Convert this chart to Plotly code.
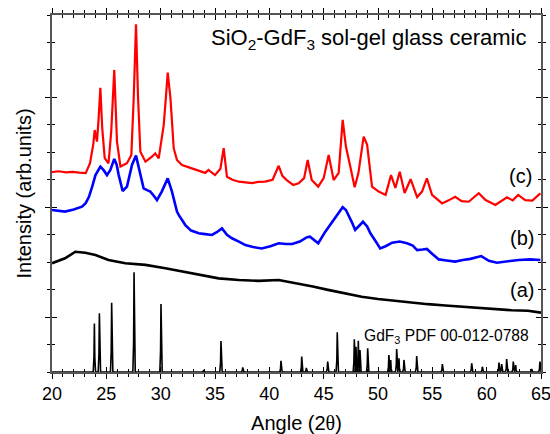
import plotly.graph_objects as go

# --- XRD patterns, 2-theta in degrees, intensity in arbitrary (offset) units ---

# (c) crystallised glass ceramic
red_x = [20.0, 20.6, 21.3, 21.9, 22.5, 23.1, 23.5, 23.8, 23.93, 24.14,
         24.3, 24.45, 24.62, 24.85, 25.2, 25.45, 25.73, 25.98, 26.3, 26.9,
         27.3, 27.52, 27.73, 27.92, 28.13, 28.6, 29.2, 29.5, 29.82, 30.28,
         30.5, 30.65, 30.9, 31.2, 31.5, 31.96, 32.6, 33.2, 33.7, 34.1,
         34.4, 35.0, 35.5, 35.8, 36.1, 36.6, 37.2, 37.8, 38.4, 39.0,
         39.6, 40.3, 40.86, 41.2, 41.6, 42.2, 42.7, 43.2, 43.53, 43.9,
         44.5, 45.0, 45.46, 45.92, 46.38, 46.75, 47.05, 47.45, 47.85, 48.2,
         48.68, 49.0, 49.45, 50.06, 50.7, 51.2, 51.6, 52.0, 52.45, 53.0,
         53.6, 54.05, 54.5, 54.97, 55.4, 55.9, 56.5, 57.1, 57.7, 58.35,
         59.27, 59.9, 60.8, 61.3, 61.87, 62.4, 62.9, 63.55, 64.2, 64.94]
red_y = [7.28, 7.31, 7.27, 7.29, 7.26, 7.24, 7.60, 8.30, 8.81, 8.39,
         9.30, 10.35, 8.90, 7.79, 7.60, 8.75, 11.00, 8.39, 7.48, 7.60,
         7.90, 9.98, 12.66, 9.98, 8.02, 7.66, 7.84, 7.96, 7.78, 8.99,
         10.10, 10.90, 9.97, 8.15, 7.72, 7.54, 7.45, 7.36, 7.30, 7.25,
         7.36, 7.17, 7.40, 8.15, 7.11, 7.00, 6.93, 6.90, 6.88, 6.92,
         6.93, 7.00, 7.51, 7.14, 6.99, 6.81, 6.87, 7.06, 7.72, 6.99,
         6.75, 7.06, 7.90, 6.99, 7.25, 9.18, 8.20, 7.48, 6.73, 7.25,
         8.57, 8.27, 6.75, 6.57, 6.45, 7.17, 6.70, 7.29, 6.52, 7.02,
         6.37, 6.57, 7.05, 6.45, 6.30, 6.14, 6.25, 6.38, 6.22, 6.20,
         6.51, 6.26, 6.08, 6.20, 6.36, 6.25, 6.45, 6.26, 6.24, 6.51]

# (b) partially crystallised sample
blue_x = [20.0, 20.6, 21.2, 22.0, 22.76, 23.1, 23.4, 23.7, 24.0, 24.45,
          24.75, 25.06, 25.37, 25.73, 25.95, 26.14, 26.5, 26.9, 27.15, 27.36,
          27.73, 28.04, 28.43, 28.75, 29.05, 29.4, 29.66, 30.1, 30.4, 30.65,
          31.04, 31.3, 31.5, 31.66, 32.27, 32.8, 33.5, 34.1, 34.72, 35.2,
          35.64, 36.1, 36.56, 37.2, 37.8, 38.5, 39.3, 40.1, 40.86, 41.5,
          42.1, 42.8, 43.47, 43.74, 44.1, 44.5, 45.15, 45.6, 45.92, 46.3,
          46.75, 47.05, 47.3, 47.6, 47.9, 48.3, 48.62, 49.0, 49.3, 49.8,
          50.2, 50.7, 51.3, 52.0, 52.67, 53.2, 53.6, 54.1, 54.5, 55.0,
          55.6, 56.3, 57.1, 57.8, 58.5, 59.5, 60.2, 60.95, 61.9, 62.95,
          64.0, 64.94]
blue_y = [5.90, 5.86, 5.84, 5.92, 6.02, 6.15, 6.38, 6.75, 7.17, 7.48,
          7.35, 7.17, 7.36, 7.76, 7.55, 7.17, 6.59, 6.75, 7.20, 7.54,
          7.88, 7.36, 6.69, 6.62, 6.57, 6.40, 6.26, 6.57, 6.85, 7.05,
          6.57, 6.15, 5.84, 5.72, 5.35, 5.15, 5.05, 5.02, 4.99, 5.10,
          5.23, 5.00, 4.87, 4.75, 4.62, 4.55, 4.50, 4.58, 4.69, 4.66,
          4.66, 4.75, 4.91, 4.93, 4.80, 4.69, 5.11, 5.35, 5.54, 5.75,
          6.00, 5.90, 5.72, 5.45, 5.17, 5.35, 5.47, 5.30, 5.05, 4.75,
          4.50, 4.58, 4.71, 4.75, 4.69, 4.60, 4.44, 4.46, 4.48, 4.30,
          4.10, 4.06, 4.02, 4.08, 4.12, 4.22, 4.05, 3.98, 4.03, 4.08,
          4.10, 4.08]

# (a) amorphous sol-gel glass
black_x = [20.0, 21.2, 22.15, 23.06, 24.0, 25.2, 26.75, 28.6, 30.43, 32.27,
           33.8, 35.34, 37.2, 39.0, 40.86, 42.55, 44.0, 45.4, 47.0, 48.5,
           50.0, 51.56, 53.0, 54.6, 56.2, 57.7, 59.2, 60.76, 62.3, 63.8, 65.0]
black_y = [3.96, 4.14, 4.38, 4.34, 4.26, 4.08, 3.96, 3.90, 3.78, 3.65,
           3.53, 3.41, 3.35, 3.32, 3.35, 3.23, 3.11, 2.99, 2.86, 2.74,
           2.66, 2.59, 2.53, 2.47, 2.42, 2.38, 2.33, 2.28, 2.25, 2.23, 2.16]

# GdF3 reference pattern (PDF 00-012-0788): line positions and relative heights
pdf_pos = [23.9, 24.36, 25.49, 27.55, 30.03, 33.96, 35.55, 37.55, 41.07, 42.98,
           43.4, 45.37, 46.25, 47.82, 47.98, 48.19, 48.34, 49.05, 51.0, 51.17,
           51.72, 51.93, 52.39, 53.56, 55.92, 58.62, 59.6, 61.13, 61.38, 61.84,
           62.45, 62.67, 64.14, 64.9]
pdf_int = [1.77, 2.14, 2.52, 3.63, 2.48, 0.07, 1.13, 0.17, 0.41, 0.56,
           0.15, 0.38, 1.45, 1.19, 0.92, 1.14, 0.80, 0.86, 0.62, 0.44,
           0.84, 0.50, 0.44, 0.58, 0.29, 0.32, 0.19, 0.34, 0.29, 0.47,
           0.38, 0.25, 0.11, 0.38]

x_range = [20, 65]
y_range = [0, 13]

# narrow peak profile for each reference line, joined along the baseline
stick_x, stick_y = [x_range[0]], [0.0]
for p, h in zip(pdf_pos, pdf_int):
    stick_x += [p - 0.11, p - 0.04, p, p + 0.04, p + 0.11]
    stick_y += [0.0, 0.3 * h, h, 0.3 * h, 0.0]
stick_x.append(x_range[1])
stick_y.append(0.0)

fig = go.Figure()
fig.add_trace(go.Scatter(x=stick_x, y=stick_y, mode="lines",
                         line=dict(color="black", width=1.6), hoverinfo="skip"))
fig.add_trace(go.Scatter(x=black_x, y=black_y, mode="lines",
                         line=dict(color="black", width=2.6)))
fig.add_trace(go.Scatter(x=blue_x, y=blue_y, mode="lines",
                         line=dict(color="#0000ff", width=2.6)))
fig.add_trace(go.Scatter(x=red_x, y=red_y, mode="lines",
                         line=dict(color="#ff0000", width=2.2)))
# carrier for the overlaid axis pair that draws the inner half of the ticks
fig.add_trace(go.Scatter(x=[x_range[0]], y=[y_range[0]], xaxis="x2", yaxis="y2",
                         mode="markers", marker=dict(opacity=0), hoverinfo="skip"))

axis_font = "Liberation Sans, Arial, sans-serif"
line_col = "#555555"

common_x = dict(range=x_range, tick0=20, dtick=5, showgrid=False, zeroline=False,
                showline=True, linecolor=line_col, linewidth=1.5, automargin=False,
                tickcolor="black", tickwidth=1.2, ticklen=5, mirror="ticks",
                minor=dict(dtick=1, ticklen=3, tickcolor="black", tickwidth=1))
common_y = dict(range=y_range, tick0=2, dtick=4, showgrid=False, zeroline=False,
                showline=True, linecolor=line_col, linewidth=1.5, automargin=False,
                tickcolor="black", tickwidth=1.2, ticklen=5, mirror="ticks",
                showticklabels=False,
                minor=dict(dtick=1, ticklen=3, tickcolor="black", tickwidth=1))

fig.update_layout(
    width=550, height=434,
    margin=dict(l=52, r=9, t=15, b=62, autoexpand=False),
    paper_bgcolor="white", plot_bgcolor="white",
    showlegend=False,
    font=dict(family=axis_font, color="black"),
    xaxis=dict(**common_x, ticks="outside",
               minor_ticks="outside",
               tickfont=dict(size=18), ticklabeloverflow="allow",
               title=dict(text="Angle (2<span style='font-family:Liberation Serif'>θ</span>)",
                          font=dict(size=20), standoff=14)),
    yaxis=dict(**common_y, ticks="outside", minor_ticks="outside",
               title=dict(text="Intensity (arb.units)", font=dict(size=20), standoff=8)),
    xaxis2=dict(**common_x, ticks="inside", minor_ticks="inside",
                overlaying="x", anchor="y2", showticklabels=False),
    yaxis2=dict(**common_y, ticks="inside", minor_ticks="inside",
                overlaying="y", anchor="x2"),
)

fig.add_annotation(text="SiO<sub>2</sub>-GdF<sub>3</sub> sol-gel glass ceramic",
                   xref="paper", yref="paper", x=0.973, y=0.933,
                   xanchor="right", yanchor="middle", showarrow=False,
                   font=dict(size=22))
fig.add_annotation(text="(c)", xref="paper", yref="paper", x=0.959, y=0.549,
                   xanchor="center", yanchor="middle", showarrow=False,
                   font=dict(size=20))
fig.add_annotation(text="(b)", xref="paper", yref="paper", x=0.961, y=0.375,
                   xanchor="center", yanchor="middle", showarrow=False,
                   font=dict(size=20))
fig.add_annotation(text="(a)", xref="paper", yref="paper", x=0.961, y=0.230,
                   xanchor="center", yanchor="middle", showarrow=False,
                   font=dict(size=20))
fig.add_annotation(text="GdF<sub>3</sub> PDF 00-012-0788",
                   xref="paper", yref="paper", x=0.979, y=0.099,
                   xanchor="right", yanchor="middle", showarrow=False,
                   font=dict(size=15.6))

fig.write_html("out.html")
